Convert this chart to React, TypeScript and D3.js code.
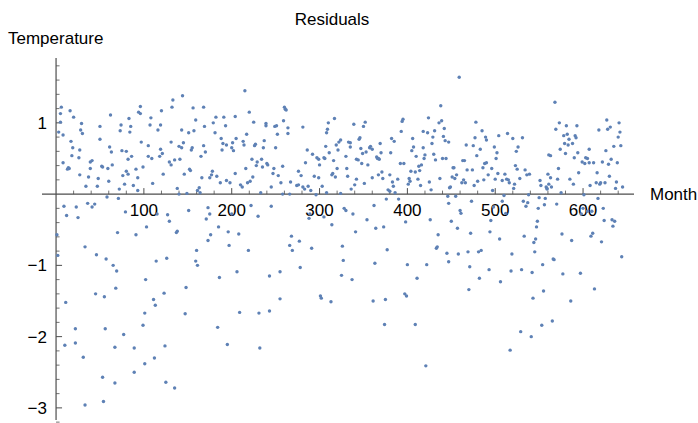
import React from "react";
import * as d3 from "d3";

// Residuals: [month, residual]
const seg1: [number, number][] = [
  [6,1.22],[5,1.13],[5,1.01],[3,0.87],[8,0.83],[16,1.17],[20,1.08],[29,0.99],[30,0.85],[28,0.90],
  [17,0.74],[19,0.65],[18,0.54],[27,0.62],[26,0.51],[8,0.44],[14,0.37],[15,0.36],[13,0.35],[27,0.27],
  [34,0.11],[37,0.24],[39,0.36],[39,0.45],[41,0.47],[47,0.11],[48,0.22],[50,0.77],[50,0.95],[52,0.39],
  [53,0.38],[59,0.36],[60,0.18],[61,0.66],[62,1.11],[63,0.59],[64,0.41],[72,0.07],[73,0.89],[74,0.97],
  [75,0.61],[76,0.26],[78,0.14],[80,0.32],[80,0.60],[82,0.28],[82,0.49],[83,1.06],[84,0.87],[85,0.95],
  [86,0.53],[88,0.12],[91,0.35],[93,0.05],[93,0.23],[94,1.15],[96,1.13],[96,1.23],[97,0.73],[99,0.38],
  [105,0.68],[107,0.97],
  [9,-0.17],[12,-0.30],[23,-0.18],[25,-0.33],[36,-0.13],[41,-0.18],[44,-0.14],[58,-0.04],[71,-0.06],[79,-0.25],
  [1,-0.57],[2,-0.86],[33,-0.74],[46,-0.85],[57,-0.91],[65,-1.00],[69,-1.08],[70,-0.54],[91,-0.57],[103,-0.46],
  [102,-1.20],[68,-1.32],[45,-1.40],[55,-1.44],[11,-1.52],[22,-1.89],[56,-1.89],[77,-1.97],[101,-1.67],[99,-1.84],
  [10,-2.12],[22,-2.09],[67,-2.15],[89,-2.16],[31,-2.29],[101,-2.38],[89,-2.50],[53,-2.57],[67,-2.65],[33,-2.96],
  [54,-2.91],
];

const seg2: [number, number][] = [
  [110,0.15],[108,1.07],[105,0.53],[109,0.50],[116,0.90],[119,0.97],[120,1.17],[118,0.53],[119,0.63],[121,0.57],
  [122,0.28],[132,1.22],[133,1.32],[144,1.38],[131,0.73],[129,0.45],[131,0.41],[135,0.48],[141,0.49],[140,0.67],
  [143,0.65],[145,0.72],[143,0.90],[151,0.86],[157,0.89],[159,1.04],[156,1.21],[168,1.22],[154,0.62],[155,0.65],
  [146,0.28],[152,0.35],[153,0.33],[138,0.08],[140,0.00],[149,0.01],[163,0.09],[161,0.05],[164,0.02],[165,0.53],
  [168,0.68],[170,0.59],[169,0.95],[166,0.23],[175,0.23],[177,0.27],[178,0.32],[183,0.25],[179,1.00],[181,0.86],
  [182,1.08],[188,0.78],[190,0.71],[193,0.96],[191,1.08],[189,0.62],[194,0.69],[201,0.72],[200,0.65],[202,0.61],
  [205,0.78],[204,1.09],[187,0.16],[194,0.19],[198,0.16],[204,0.29],[210,0.13],[212,0.10],[213,0.74],[214,0.69],
  [216,0.36],[218,0.16],[215,1.45],[217,0.84],[220,1.15],
  [115,-0.28],[127,-0.29],[129,-0.38],[137,-0.54],[138,-0.52],[151,-0.23],[173,-0.19],[175,-0.28],[171,-0.35],[176,-0.57],
  [173,-0.65],[185,-0.46],[196,-0.53],[200,-0.28],[208,-0.56],[197,-0.72],[219,-0.79],[160,-0.79],[114,-0.94],[126,-0.90],
  [159,-0.94],[161,-1.00],[123,-1.39],[186,-1.17],[206,-1.09],[148,-1.31],[111,-1.48],[113,-1.56],[147,-1.68],[209,-1.66],
  [184,-1.87],[195,-2.11],[124,-2.13],[112,-2.30],[125,-2.64],[135,-2.72],
];

const seg3: [number, number][] = [
  [225,1.01],[223,0.49],[226,0.68],[227,0.70],[229,0.45],[228,0.40],[234,0.49],[235,0.38],[237,0.75],[236,0.65],
  [239,0.96],[239,0.99],[240,0.43],[241,0.41],[248,0.36],[247,0.29],[249,0.95],[251,0.96],[252,0.84],[250,0.65],
  [258,0.39],[253,0.26],[259,1.03],[260,1.22],[261,1.19],[262,1.18],[264,0.93],[264,0.85],[267,0.17],[256,0.16],
  [245,0.10],[224,0.24],[221,0.18],[233,0.02],[258,0.00],[266,0.00],[276,0.32],[279,0.26],[274,0.12],[276,0.13],
  [281,0.94],[284,0.44],[286,0.62],[281,0.10],[283,0.07],[287,0.11],[290,0.05],[292,0.56],[294,0.25],[296,-0.01],
  [297,0.51],[299,0.49],[299,0.23],[300,0.41],[303,0.11],[305,0.51],[306,0.50],[307,0.67],[308,0.86],[309,0.91],
  [310,1.00],[308,0.02],[311,0.58],[314,0.27],[316,0.47],[315,0.29],[317,1.06],[318,0.24],[319,0.69],[320,0.36],
  [321,0.62],[322,0.73],[324,0.76],[324,0.01],[330,0.53],[331,0.36],[332,0.25],[333,0.73],
  [222,-0.16],[230,-0.31],[245,-0.17],[268,-0.59],[266,-0.72],[269,-0.79],[277,-0.66],[291,-0.76],[278,-1.03],[255,-1.09],
  [243,-1.15],[289,-0.28],[288,-0.34],[305,-0.32],[314,-0.43],[328,-0.20],[330,-0.23],[326,-0.73],[327,-0.93],[325,-1.14],
  [301,-1.43],[302,-1.46],[313,-1.51],[255,-1.47],[231,-1.67],[243,-1.64],[232,-2.16],
];

const seg4: [number, number][] = [
  [339,0.98],[350,0.95],[352,1.01],[345,0.77],[346,0.79],[335,0.72],[335,0.66],[342,0.49],[344,0.48],[347,0.64],
  [349,0.57],[353,0.59],[348,0.43],[355,0.41],[357,0.65],[358,0.67],[360,0.63],[342,0.21],[340,0.13],[336,0.07],
  [351,0.15],[360,0.23],[365,0.52],[366,0.50],[367,0.50],[368,0.49],[370,0.58],[369,0.71],[367,0.27],[371,0.31],
  [372,0.22],[380,0.27],[381,0.58],[382,0.78],[385,0.74],[383,0.17],[384,0.11],[378,0.06],[380,0.04],[386,0.02],
  [389,0.21],[392,0.43],[396,0.43],[393,0.88],[394,1.02],[395,1.05],[402,0.22],[403,0.18],[401,0.14],[404,0.32],
  [405,0.61],[406,0.78],[407,0.66],[409,0.31],[410,0.53],[412,0.21],[413,0.39],[414,0.33],[416,0.41],[415,0.12],
  [418,0.65],[418,0.88],[419,0.50],[420,0.55],[423,0.86],[424,1.07],[425,0.17],[427,0.06],[428,0.71],[429,0.80],
  [430,0.56],[431,0.89],[432,0.48],[436,1.00],[437,0.22],[438,1.24],[439,1.03],[440,0.50],[441,0.81],[442,0.92],
  [443,0.75],[444,0.50],[447,0.73],[448,0.09],
  [338,-0.28],[341,-0.53],[337,-1.20],[354,-0.36],[362,-0.16],[364,-0.48],[373,-0.46],[376,-0.07],[390,-0.07],[377,-0.78],
  [363,-0.97],[361,-1.50],[375,-1.48],[374,-1.83],[397,-1.40],[399,-1.43],[398,-0.39],[400,-0.99],[411,-1.18],[409,-1.83],
  [422,-0.99],[426,-0.36],[435,-0.57],[433,-0.76],[434,-0.74],[445,-0.83],[447,-0.95],[446,-0.03],[447,-0.13],[421,-2.41],
];

const seg5: [number, number][] = [
  [459,1.64],[452,0.37],[453,0.37],[451,0.24],[454,0.22],[456,0.27],[449,0.10],[462,0.16],[464,0.20],[466,0.16],
  [463,0.47],[465,0.47],[468,0.34],[467,0.69],[474,0.34],[475,0.68],[477,0.79],[478,1.01],[479,0.54],[483,0.63],
  [485,0.89],[476,0.12],[480,0.18],[487,0.20],[486,0.37],[488,0.43],[490,0.44],[489,0.80],[490,0.76],[492,0.27],
  [496,0.36],[499,0.66],[502,0.58],[501,0.50],[504,0.82],[500,0.21],[503,0.29],[497,0.05],[508,0.19],[511,0.28],
  [514,0.85],[513,0.21],[515,0.20],[516,0.16],[520,0.78],[521,0.08],[522,0.14],[523,0.40],[524,0.60],[526,0.66],
  [525,0.35],[528,0.22],[531,0.79],[534,0.34],[536,0.27],[539,0.28],[538,-0.01],[551,0.19],[552,0.12],[558,0.10],
  [560,0.28],[561,0.55],[559,0.08],
  [455,-0.03],[460,-0.23],[461,-0.27],[450,-0.38],[457,-0.48],[458,-0.84],[473,-0.10],[472,-0.55],[469,-0.81],[471,-1.02],
  [470,-1.34],[482,-1.18],[481,-0.81],[484,-0.79],[493,-1.06],[494,-0.53],[495,-0.37],[498,-0.18],[510,-0.02],[508,-0.10],
  [512,-0.27],[505,-0.63],[506,-1.23],[519,-0.84],[518,-1.08],[517,-2.19],[529,-1.93],[530,-1.06],[533,-0.59],[532,-0.10],
  [537,-0.12],[535,-0.17],[541,-2.00],[543,-1.46],[542,-1.10],[545,-0.81],[544,-0.68],[546,-0.63],[547,-0.46],[548,-0.38],
  [549,-0.20],[550,-0.05],[556,-0.15],[557,-0.06],[554,-0.99],[555,-1.36],[553,-1.84],
];

const seg6: [number, number][] = [
  [568,1.29],[573,1.00],[569,0.91],[581,0.96],[578,0.82],[582,0.84],[584,0.77],[588,0.71],[579,0.71],[583,0.69],
  [591,0.82],[592,0.79],[593,0.96],[574,0.63],[580,0.57],[563,0.54],[590,0.51],[594,0.58],[599,0.45],[602,0.43],
  [603,0.51],[605,0.50],[607,0.44],[607,0.63],[612,0.44],[572,0.36],[595,0.30],[563,0.23],[571,0.21],[585,0.21],
  [589,0.14],[559,0.07],[561,0.14],[564,0.10],[575,0.02],[608,0.12],[615,0.16],[616,0.30],[618,0.90],[619,0.14],
  [620,0.16],[622,0.45],[625,0.16],[626,0.61],[627,1.04],[628,0.91],[631,0.94],[629,0.42],[630,0.25],[632,0.49],
  [635,0.67],[637,0.08],[638,0.17],[639,0.44],[640,0.80],[641,1.00],[642,0.87],[643,0.68],[645,0.10],
  [570,-0.14],[576,-0.56],[587,-0.65],[566,-0.91],[567,-0.92],[577,-1.12],[597,-1.11],[586,-1.50],[565,-1.78],[598,-0.28],
  [601,-0.01],[600,-0.20],[605,-0.24],[610,-0.24],[611,-0.55],[609,-0.59],[617,-0.06],[623,-0.20],[624,-0.37],[621,-0.67],
  [633,-0.36],[636,-0.38],[634,-0.45],[613,-1.33],[644,-0.88],
];

const xMajorTicks = [100, 200, 300, 400, 500, 600];
const yMajorTicks = [-3, -2, -1, 1];

const W = 698;
const H = 423;
const FONT = "'Liberation Sans', Arial, sans-serif";
const DOT = "rgb(94,129,181)";
const AXIS = "#4d4d4d";

export default function App() {
  const points = [...seg1, ...seg2, ...seg3, ...seg4, ...seg5, ...seg6];
  const x = d3.scaleLinear().domain([-16, 658]).range([42, 634]);
  const y = d3.scaleLinear().domain([-3.17, 1.91]).range([420, 58]);
  const x0 = x(0);
  const y0 = y(0);
  const xMinor = d3.range(20, 660, 20).filter((v) => v % 100 !== 0 && x(v) <= 634);
  const yMinor = d3.range(-32, 19, 2).map((v) => v / 10).filter((v) => Math.abs(v - Math.round(v)) > 1e-6);

  return (
    <div style={{ position: "absolute", left: 0, top: 0 }}>
      <svg width={W} height={H} style={{ display: "block", background: "#fff" }} fontFamily={FONT}>
        <text x={332} y={25} fontSize={17} textAnchor="middle" fill="#000">Residuals</text>
        <text x={8} y={44} fontSize={17} fill="#000">Temperature</text>
        <text x={650} y={200} fontSize={17} fill="#000">Month</text>

        {/* axes */}
        <line x1={x.range()[0]} x2={x.range()[1]} y1={y0} y2={y0} stroke={AXIS} strokeWidth={1.2} />
        <line x1={x0} x2={x0} y1={y.range()[1]} y2={y.range()[0]} stroke={AXIS} strokeWidth={1.2} />

        {xMajorTicks.map((t) => (
          <g key={"xm" + t}>
            <line x1={x(t)} x2={x(t)} y1={y0} y2={y0 - 6} stroke={AXIS} />
            <text x={x(t)} y={216} fontSize={17} textAnchor="middle" fill="#000">{t}</text>
          </g>
        ))}
        {xMinor.map((t) => (
          <line key={"xn" + t} x1={x(t)} x2={x(t)} y1={y0} y2={y0 - 3.5} stroke={AXIS} strokeWidth={0.8} />
        ))}
        {yMajorTicks.map((t) => (
          <g key={"ym" + t}>
            <line x1={x0} x2={x0 + 6} y1={y(t)} y2={y(t)} stroke={AXIS} />
            <text x={47} y={y(t) + 6} fontSize={17} textAnchor="end" fill="#000">
              {t < 0 ? "\u2212" + Math.abs(t) : String(t)}
            </text>
          </g>
        ))}
        {yMinor.map((t) => (
          <line key={"yn" + t} x1={x0} x2={x0 + 3.5} y1={y(t)} y2={y(t)} stroke={AXIS} strokeWidth={0.8} />
        ))}

        {points.map((p, i) => (
          <circle key={i} cx={x(p[0])} cy={y(p[1])} r={1.7} fill={DOT} />
        ))}
      </svg>
    </div>
  );
}
